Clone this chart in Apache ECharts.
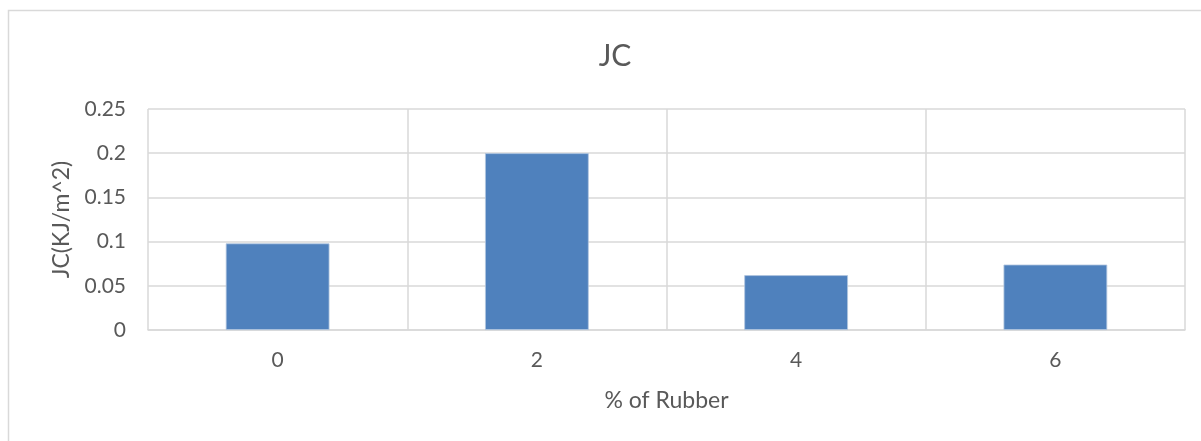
<!DOCTYPE html>
<html>
<head>
<meta charset="utf-8">
<script src="https://cdn.jsdelivr.net/npm/echarts@6/dist/echarts.min.js"></script>
<style>
  html, body { margin: 0; padding: 0; background: #ffffff; }
  #chart { width: 1201px; height: 441px; }
</style>
</head>
<body>
<div id="chart"></div>
<script>
// Rubber content (%) and impact energy JC (KJ/m^2)
const categories = ['0', '2', '4', '6'];
const jcValues = [0.098, 0.2, 0.062, 0.074];
const yTicks = [0, 0.05, 0.1, 0.15, 0.2, 0.25];

const textColor = '#595959';
const gridColor = '#d9d9d9';
const fontFamily = 'Lato, "Open Sans", sans-serif';

const chart = echarts.init(document.getElementById('chart'));
chart.setOption({
  animation: false,
  backgroundColor: '#ffffff',
  graphic: [{
    type: 'rect',
    shape: { x: 8.5, y: 10.5, width: 1300, height: 500 },
    style: { fill: 'none', stroke: gridColor, lineWidth: 1.5 },
    silent: true
  }],
  title: {
    text: 'JC',
    left: 610,
    textAlign: 'center',
    top: 36,
    textStyle: { color: textColor, fontFamily, fontSize: 30, fontWeight: 'normal' }
  },
  grid: { left: 148, top: 109, right: 16, bottom: 111, containLabel: false },
  xAxis: {
    type: 'category',
    data: categories,
    name: '% of Rubber',
    nameLocation: 'middle',
    nameGap: 59,
    nameTextStyle: { color: textColor, fontFamily, fontSize: 23 },
    axisLine: { show: true, lineStyle: { color: gridColor, width: 1.5 } },
    axisTick: { show: false },
    axisLabel: { color: textColor, fontFamily, fontSize: 21, margin: 20 },
    splitLine: { show: true, lineStyle: { color: gridColor, width: 1.5 } }
  },
  yAxis: {
    type: 'value',
    min: yTicks[0],
    max: yTicks[yTicks.length - 1],
    interval: 0.05,
    name: 'JC(KJ/m^2)',
    nameLocation: 'middle',
    nameRotate: 90,
    nameGap: 75,
    nameTextStyle: { color: textColor, fontFamily, fontSize: 23 },
    axisLine: { show: false },
    axisTick: { show: false },
    axisLabel: {
      color: textColor, fontFamily, fontSize: 21, margin: 22,
      formatter: v => String(parseFloat(v.toFixed(2)))
    },
    splitLine: { show: true, lineStyle: { color: gridColor, width: 1.5 } }
  },
  series: [{
    type: 'bar',
    data: jcValues,
    barWidth: '40%',
    itemStyle: { color: '#4f81bd', borderColor: '#b3c7e0', borderWidth: 0.8 }
  }]
});
</script>
</body>
</html>
